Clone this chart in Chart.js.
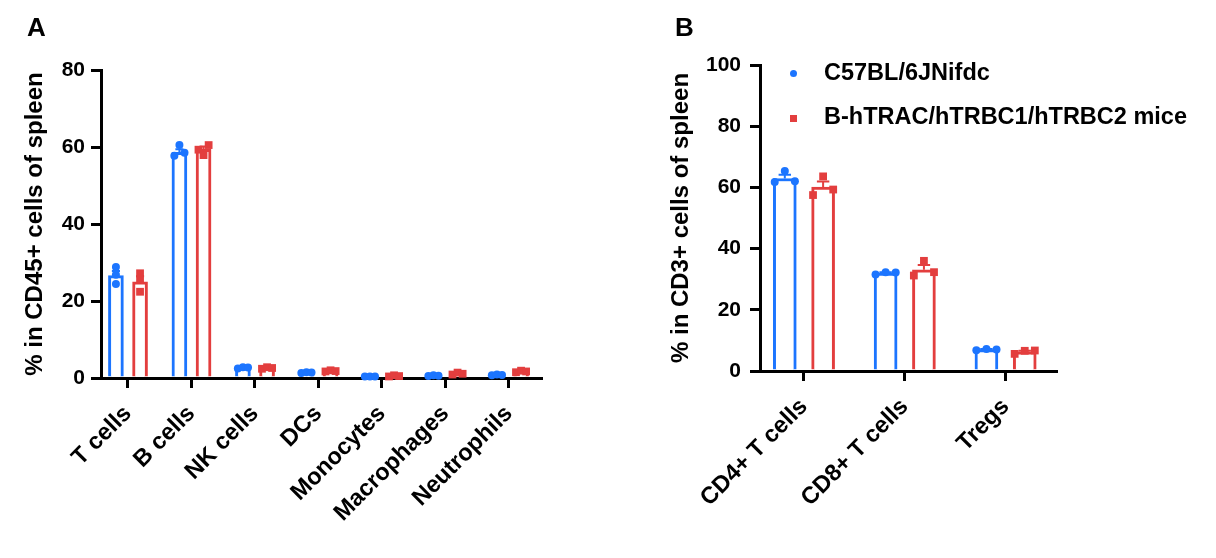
<!DOCTYPE html>
<html><head><meta charset="utf-8">
<script src="https://cdn.jsdelivr.net/npm/chart.js@4.4.0/dist/chart.umd.min.js"></script>
<style>
html,body{margin:0;padding:0;background:#fff;width:1216px;height:558px;overflow:hidden;font-family:"Liberation Sans",Arial,sans-serif;}
#ca{position:absolute;left:0;top:0;}
#cb{position:absolute;left:590px;top:0;}
.panel{position:absolute;font-weight:bold;font-size:26px;line-height:26px;color:#000;}
.leg{position:absolute;font-weight:bold;font-size:23.5px;line-height:23.5px;white-space:nowrap;color:#000;}
.mk{position:absolute;width:7px;height:7px;}
</style></head><body>
<canvas id="ca" width="580" height="558"></canvas>
<canvas id="cb" width="626" height="558"></canvas>
<div class="panel" style="left:27px;top:14px;">A</div>
<div class="panel" style="left:675px;top:14px;">B</div>
<div class="mk" style="left:790px;top:70px;border-radius:50%;background:rgb(28,117,255);"></div>
<div class="leg" style="left:824px;top:61px;">C57BL/6JNifdc</div>
<div class="mk" style="left:790px;top:115px;background:rgb(227,62,62);"></div>
<div class="leg" style="left:824px;top:105px;">B-hTRAC/hTRBC1/hTRBC2 mice</div>
<script>
// ---------- data: panel A ----------
const catsA = ['T cells','B cells','NK cells','DCs','Monocytes','Macrophages','Neutrophils'];
const yTicksA = [0,20,40,60,80];
const meanA_wt = [26.6, 58.6, 2.7, 1.4, 0.4, 0.6, 0.8];
const semA_wt  = [1.2, 0.8, 0.1, 0.06, 0.03, 0.06, 0.06];
const meanA_tg = [25.0, 59.4, 2.6, 1.8, 0.5, 1.1, 1.7];
const semA_tg  = [1.4, 0.7, 0.12, 0.09, 0.09, 0.15, 0.12];
const ptsA_wt  = [[28.8,26.8,24.4],[57.7,60.5,58.5],[2.5,2.8,2.7],[1.3,1.5,1.4],[0.4,0.4,0.4],[0.5,0.7,0.6],[0.7,0.9,0.8]];
const ptsA_tg  = [[27.2,25.5,22.4],[59.3,57.9,60.5],[2.4,2.8,2.6],[1.7,2.0,1.8],[0.4,0.7,0.5],[0.9,1.4,1.1],[1.5,1.9,1.7]];
// ---------- data: panel B ----------
const catsB = ['CD4+ T cells','CD8+ T cells','Tregs'];
const yTicksB = [0,20,40,60,80,100];
const meanB_wt = [62.9, 32.0, 7.0];
const semB_wt  = [1.2, 0.3, 0.15];
const meanB_tg = [60.1, 33.1, 6.3];
const semB_tg  = [1.8, 1.5, 0.35];
const ptsB_wt  = [[61.8,65.4,62.0],[31.5,32.3,32.2],[6.8,7.2,7.0]];
const ptsB_tg  = [[57.5,63.6,59.3],[31.2,36.0,32.3],[5.6,6.6,6.7]];
const seriesNames = ['C57BL/6JNifdc','B-hTRAC/hTRBC1/hTRBC2 mice'];

// ---------- layout (point jitter slots: -1 left, 0 centre, 1 right) ----------
const jitA_wt = [[0,0,0],[-1,0,1],[-1,0,1],[-1,0,1],[-1,0,1],[-1,0,1],[-1,0,1]];
const jitA_tg = [[0,0,0],[-1,0,1],[-1,0,1],[-1,0,1],[-1,0,1],[-1,0,1],[-1,0,1]];
const jitB = [[-1,0,1],[-1,0,1],[-1,0,1]];

const BLUE = 'rgb(28,117,255)', RED = 'rgb(227,62,62)';
const FONT = '"Liberation Sans", Arial, sans-serif';
const BAR_OFF = 0.19; // bar centre offset from category centre, in category units

const errPlugin = {
  id: 'errbars',
  afterDatasetDraw(chart, args) {
    const ds = chart.data.datasets[args.index];
    if (!ds.sem) return;
    const ctx = chart.ctx, ys = chart.scales.y;
    ctx.save();
    ctx.strokeStyle = ds.borderColor; ctx.lineWidth = 2;
    args.meta.data.forEach((el, j) => {
      const top = ys.getPixelForValue(ds.means[j] + ds.sem[j]);
      const half = el.width * 0.27;
      ctx.beginPath();
      ctx.moveTo(el.x, el.y); ctx.lineTo(el.x, top);
      ctx.moveTo(el.x - half, top); ctx.lineTo(el.x + half, top);
      ctx.stroke();
    });
    ctx.restore();
  }
};

function barData(means, side) {
  return means.map((v, i) => ({x: i + side * BAR_OFF, y: v}));
}
function scatterData(pts, jit, side, jitUnit) {
  const out = [];
  pts.forEach((arr, i) => arr.forEach((v, k) => out.push({x: i + side * BAR_OFF + jit[i][k] * jitUnit, y: v})));
  return out;
}

function makeChart(id, cfg) {
  const axisGrid = {display: true, drawOnChartArea: false, offset: false, tickLength: 10, tickWidth: 3, tickColor: '#000', lineWidth: 3, color: '#000'};
  const border = {display: true, width: 3, color: '#000'};
  new Chart(document.getElementById(id), {
    type: 'bar',
    data: {
      datasets: [
        {type: 'scatter', label: seriesNames[0], data: scatterData(cfg.ptsWt, cfg.jitWt, -1, cfg.jitUnit),
          pointStyle: 'circle', pointRadius: 4, backgroundColor: BLUE, borderWidth: 0, order: 0, clip: false},
        {type: 'scatter', label: seriesNames[1], data: scatterData(cfg.ptsTg, cfg.jitTg, 1, cfg.jitUnit),
          pointStyle: 'rect', pointRadius: 5.5, backgroundColor: RED, borderWidth: 0, order: 0, clip: false},
        {type: 'bar', label: seriesNames[0], data: barData(cfg.meanWt, -1), means: cfg.meanWt, sem: cfg.semWt,
          borderColor: BLUE, backgroundColor: '#fff', borderWidth: 3, grouped: false, barThickness: cfg.barW, order: 2},
        {type: 'bar', label: seriesNames[1], data: barData(cfg.meanTg, 1), means: cfg.meanTg, sem: cfg.semTg,
          borderColor: RED, backgroundColor: '#fff', borderWidth: 3, grouped: false, barThickness: cfg.barW, order: 2}
      ]
    },
    options: {
      animation: false, responsive: false,
      layout: {padding: {top: cfg.padTop, right: cfg.padRight, left: 0, bottom: 0}},
      plugins: {legend: {display: false}, tooltip: {enabled: false}},
      scales: {
        x: {type: 'linear', offset: false, min: cfg.xMin, max: cfg.xMax, grid: axisGrid, border,
          afterBuildTicks: s => { s.ticks = cfg.cats.map((c, i) => ({value: i})); },
          ticks: {color: '#000', font: {family: FONT, size: 23.5, weight: 'bold'}, minRotation: 45, maxRotation: 45, autoSkip: false, padding: 12,
            callback: v => cfg.cats[v]},
          afterFit: s => { s.height = cfg.xH; }},
        y: {type: 'linear', min: 0, max: cfg.yTicks[cfg.yTicks.length - 1], grid: axisGrid, border,
          afterBuildTicks: s => { s.ticks = cfg.yTicks.map(v => ({value: v})); },
          ticks: {color: '#000', font: {family: FONT, size: 21, weight: 'bold'}, padding: cfg.tickPad},
          title: {display: true, text: cfg.yTitle, color: '#000', font: {family: FONT, size: 24, weight: 'bold'}, padding: {top: cfg.titlePad, bottom: 0}},
          afterFit: s => { s.width = cfg.yW; }}
      }
    },
    plugins: [errPlugin]
  });
}

makeChart('ca', {cats: catsA, yTicks: yTicksA, meanWt: meanA_wt, semWt: semA_wt, meanTg: meanA_tg, semTg: semA_tg,
  ptsWt: ptsA_wt, ptsTg: ptsA_tg, jitWt: jitA_wt, jitTg: jitA_tg, jitUnit: 0.08, barW: 15, xMin: -0.425, xMax: 6.504,
  padTop: 70, padRight: 39, xH: 180, yW: 101, tickPad: 6, titlePad: 21, yTitle: '% in CD45+ cells of spleen'});
makeChart('cb', {cats: catsB, yTicks: yTicksB, meanWt: meanB_wt, semWt: semB_wt, meanTg: meanB_tg, semTg: semB_tg,
  ptsWt: ptsB_wt, ptsTg: ptsB_tg, jitWt: jitB, jitTg: jitB, jitUnit: 0.1, barW: 23, xMin: -0.436, xMax: 2.5,
  padTop: 65, padRight: 160, xH: 187, yW: 170, tickPad: 9, titlePad: 77, yTitle: '% in CD3+ cells of spleen'});
</script>
</body></html>
